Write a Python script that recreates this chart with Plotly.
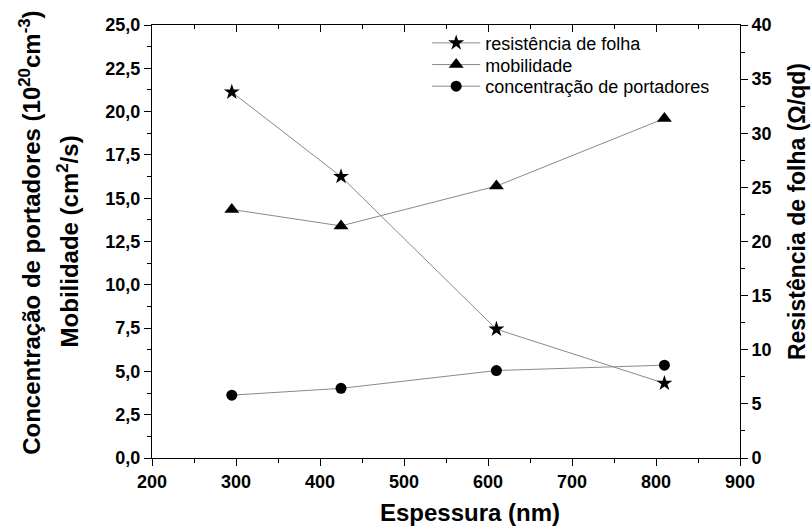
import plotly.graph_objects as go

espessura = [295, 425, 610, 810]
resistencia = [33.8, 26.0, 11.9, 6.9]      # right axis (Ω/qd)
mobilidade = [14.35, 13.4, 15.7, 19.6]     # left axis (cm²/s)
concentracao = [3.63, 4.02, 5.05, 5.36]    # left axis (10^20 cm^-3)

x_ticks = [200, 300, 400, 500, 600, 700, 800, 900]
y_left_ticks = [0, 2.5, 5, 7.5, 10, 12.5, 15, 17.5, 20, 22.5, 25]
y_left_labels = ["0,0", "2,5", "5,0", "7,5", "10,0", "12,5", "15,0", "17,5", "20,0", "22,5", "25,0"]
y_right_ticks = [0, 5, 10, 15, 20, 25, 30, 35, 40]

FONT = "Liberation Sans, Arial, sans-serif"
LINE = "#8a8a8a"

fig = go.Figure()
fig.add_trace(go.Scatter(x=espessura, y=resistencia, yaxis="y2", mode="lines+markers",
                         name="resistência de folha", legend="legend",
                         line=dict(color=LINE, width=1),
                         marker=dict(symbol="star", size=12, color="black")))
fig.add_trace(go.Scatter(x=espessura, y=mobilidade, mode="lines+markers",
                         name="mobilidade", legend="legend2",
                         line=dict(color=LINE, width=1),
                         marker=dict(symbol="triangle-up", size=13, color="black")))
fig.add_trace(go.Scatter(x=espessura, y=concentracao, mode="lines+markers",
                         name="concentração de portadores", legend="legend3",
                         line=dict(color=LINE, width=1),
                         marker=dict(symbol="circle", size=11, color="black")))

tickfont = dict(family=FONT, size=18, color="black")
titlefont = dict(family=FONT, size=24, color="black", weight="bold")
legfont = dict(family=FONT, size=18, color="black")

def leg(y):
    return dict(x=0.468, y=y, xanchor="left", yanchor="middle",
                bgcolor="rgba(0,0,0,0)", borderwidth=0, font=legfont, itemwidth=48)

def bold(labels):
    return ["<b>%s</b>" % l for l in labels]

axis_common = dict(showgrid=False, zeroline=False, showline=True, linecolor="black",
                   linewidth=1, tickcolor="black")

fig.update_layout(
    width=811, height=528,
    margin=dict(l=152, r=71, t=25, b=70),
    paper_bgcolor="white", plot_bgcolor="white",
    showlegend=True,
    legend=leg(0.958), legend2=leg(0.908), legend3=leg(0.858),
    xaxis=dict(range=[200, 900], tickmode="array", tickvals=x_ticks,
               ticktext=bold([str(v) for v in x_ticks]),
               ticks="outside", ticklen=7,
               minor=dict(tick0=200, dtick=50, ticks="outside", ticklen=4, tickcolor="black"),
               tickfont=tickfont, **axis_common),
    xaxis2=dict(range=[200, 900], tickmode="array", tickvals=x_ticks, overlaying="x", side="top",
                ticks="inside", ticklen=7, showticklabels=False,
                minor=dict(tick0=200, dtick=50, ticks="inside", ticklen=4, tickcolor="black"),
                **axis_common),
    yaxis=dict(range=[0, 25], tickmode="array", tickvals=y_left_ticks,
               ticktext=bold(y_left_labels),
               ticks="outside", ticklen=7,
               minor=dict(tick0=0, dtick=1.25, ticks="outside", ticklen=4, tickcolor="black"),
               tickfont=tickfont, **axis_common),
    yaxis2=dict(range=[0, 40], tickmode="array", tickvals=y_right_ticks,
                ticktext=bold([str(v) for v in y_right_ticks]),
                overlaying="y", side="right",
                ticks="outside", ticklen=7,
                minor=dict(tick0=0, dtick=2.5, ticks="outside", ticklen=4, tickcolor="black"),
                tickfont=tickfont, **axis_common),
)

# dummy trace to activate the top axis
fig.add_trace(go.Scatter(x=[None], y=[None], xaxis="x2", showlegend=False, hoverinfo="skip"))

fig.add_annotation(text="<b>Concentração de portadores (10<sup>20</sup>cm<sup>-3</sup>)</b>",
                   xref="paper", yref="paper", x=-0.2075, y=0.52, textangle=-90,
                   showarrow=False, xanchor="center", yanchor="middle", font=titlefont)
fig.add_annotation(text="<b>Mobilidade (cm<sup>2</sup>/s)</b>",
                   xref="paper", yref="paper", x=-0.143, y=0.50, textangle=-90,
                   showarrow=False, xanchor="center", yanchor="middle", font=titlefont)
fig.add_annotation(text="<b>Resistência de folha (Ω/qd)</b>",
                   xref="paper", yref="paper", x=1.097, y=0.568, textangle=-90,
                   showarrow=False, xanchor="center", yanchor="middle",
                   font=dict(family=FONT, size=23, color="black", weight="bold"))
fig.add_annotation(text="<b>Espessura (nm)</b>",
                   xref="paper", yref="paper", x=0.54, y=-0.125,
                   showarrow=False, xanchor="center", yanchor="middle", font=titlefont)

fig.write_html("out.html", config={"displayModeBar": False},
               post_script="document.body.style.margin='0';document.body.style.overflow='hidden';")
